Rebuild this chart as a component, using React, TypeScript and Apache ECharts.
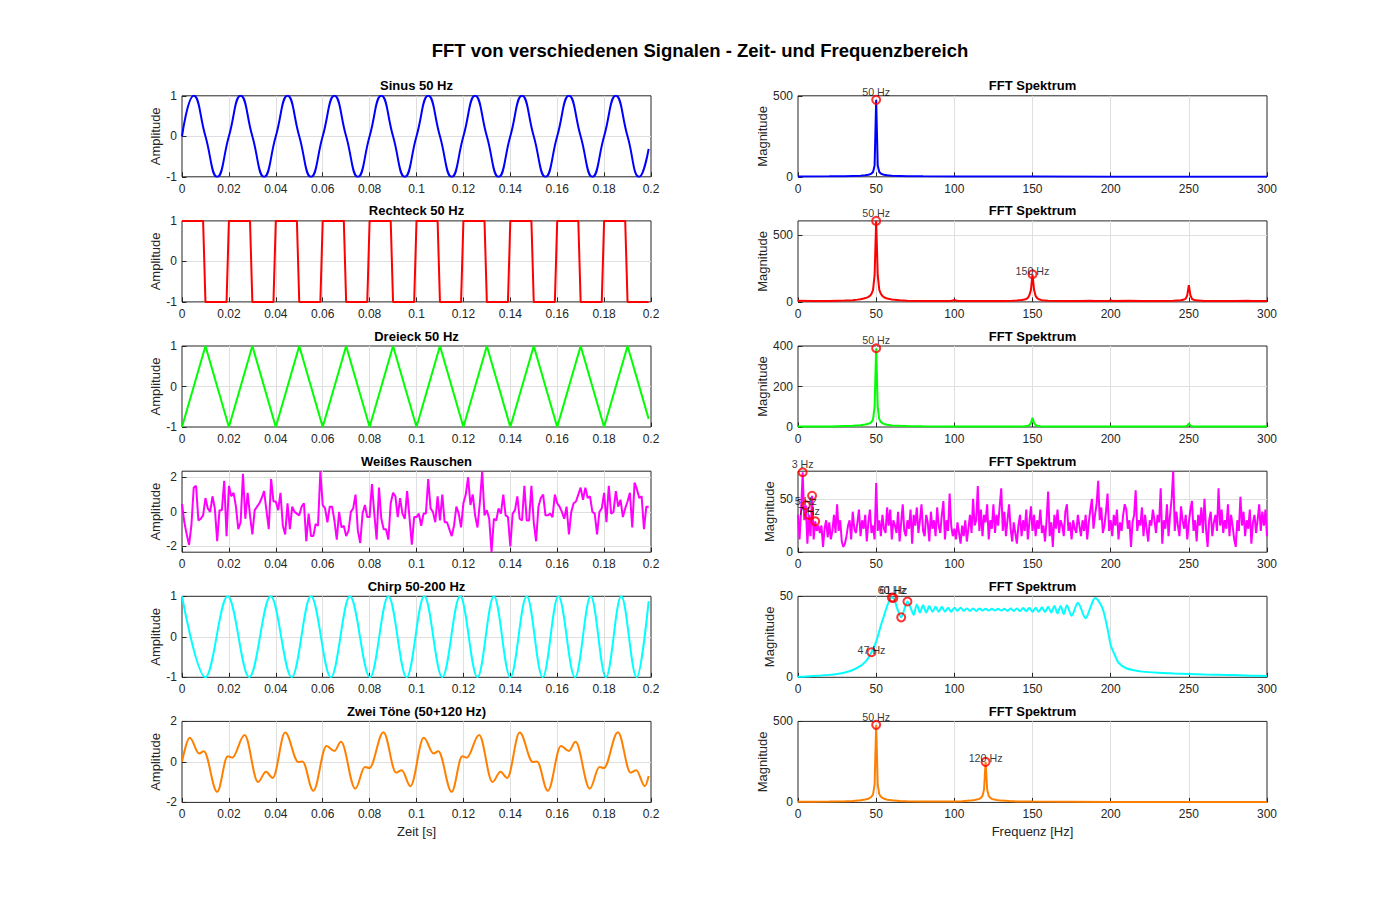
import React, { useEffect, useRef } from "react";
import * as echarts from "echarts";

const FONT = '"Liberation Sans", Arial, Helvetica, sans-serif';

// ---------- time-domain signals (t [s], amplitude) ----------
const sineSignal = [
  [0, 0], [0.005, 1], [0.01, 0], [0.015, -1], [0.02, 0], [0.025, 1], [0.03, 0], [0.035, -1],
  [0.04, 0], [0.045, 1], [0.05, 0], [0.055, -1], [0.06, 0], [0.065, 1], [0.07, 0], [0.075, -1],
  [0.08, 0], [0.085, 1], [0.09, 0], [0.095, -1], [0.1, 0], [0.105, 1], [0.11, 0], [0.115, -1],
  [0.12, 0], [0.125, 1], [0.13, 0], [0.135, -1], [0.14, 0], [0.145, 1], [0.15, 0], [0.155, -1],
  [0.16, 0], [0.165, 1], [0.17, 0], [0.175, -1], [0.18, 0], [0.185, 1], [0.19, 0], [0.195, -1],
  [0.199, -0.31],
];

const squareSignal = [
  [0, 1], [0.009, 1], [0.01, -1], [0.019, -1], [0.02, 1], [0.029, 1], [0.03, -1], [0.039, -1],
  [0.04, 1], [0.049, 1], [0.05, -1], [0.059, -1], [0.06, 1], [0.069, 1], [0.07, -1], [0.079, -1],
  [0.08, 1], [0.089, 1], [0.09, -1], [0.099, -1], [0.1, 1], [0.109, 1], [0.11, -1], [0.119, -1],
  [0.12, 1], [0.129, 1], [0.13, -1], [0.139, -1], [0.14, 1], [0.149, 1], [0.15, -1], [0.159, -1],
  [0.16, 1], [0.169, 1], [0.17, -1], [0.179, -1], [0.18, 1], [0.189, 1], [0.19, -1], [0.199, -1],
];

const triangleSignal = [
  [0, -1], [0.01, 1], [0.02, -1], [0.03, 1], [0.04, -1], [0.05, 1], [0.06, -1], [0.07, 1],
  [0.08, -1], [0.09, 1], [0.1, -1], [0.11, 1], [0.12, -1], [0.13, 1], [0.14, -1], [0.15, 1],
  [0.16, -1], [0.17, 1], [0.18, -1], [0.19, 1], [0.199, -0.8],
];

// white noise samples, 1 ms apart, starting at t = 0
const noiseSamples = [
  0.46, -0.6, -1.3, -1.9, -0.8, 1.4, 1.5, -0.5, -0.4, -0.2,
  0.8, 0.2, 0.0, 0.9, 0.2, -1.7, 0.1, 0.1, 1.8, -1.4,
  1.5, 0.9, 1.1, 0.3, -1.0, -0.6, 2.2, -0.4, 1.1, -0.2,
  -1.3, 0.1, 0.3, 0.5, 0.8, 1.2, 0.1, -1.0, 1.9, 0.6,
  0.6, 0.1, 1.1, -0.8, -1.3, 0.5, -1.0, 0.3, 0.0, -0.1,
  -0.2, 0.3, 0.5, -1.7, -0.1, -1.4, -1.4, -0.7, -0.8, 2.35,
  0.4, 0.2, -0.6, 0.3, 0.3, -0.5, -1.6, 0.0, -0.9, -0.8,
  -1.4, -1.1, 0.0, 0.2, 1.0, -1.1, -1.8, -0.1, 0.4, -0.3,
  -0.3, 1.6, -0.1, -1.6, 1.4, -0.4, -1.0, -1.0, -1.6, 0.5,
  1.1, 0.9, -0.3, 0.8, -0.1, -0.4, 1.2, -0.3, -1.9, -0.3,
  -0.3, -0.1, -0.8, -0.1, -0.1, 1.9, 0.2, 0.0, -0.6, 0.9,
  -0.5, 1.0, -0.6, -0.6, -1.0, -1.4, -0.8, 0.3, -0.1, -0.9,
  0.5, 1.0, 2.0, 0.4, 1.0, -0.2, -0.9, 0.5, 2.35, -0.2,
  0.1, -0.4, -2.33, -0.4, -0.5, 0.2, -0.1, 1.0, -0.2, -0.3,
  -2.0, -0.1, 0.1, 0.9, -0.4, -0.5, 1.5, -0.5, -0.5, 1.5,
  -0.6, -1.7, 0.3, 0.8, 1.0, -0.2, -0.2, -0.1, -0.3, 1.0,
  0.5, 0.3, 0.0, -0.4, 0.3, -1.3, 0.0, 0.5, 0.6, 1.0,
  1.4, 0.7, 1.4, 0.8, 0.9, 0.0, -0.1, -1.3, 0.0, 0.2,
  1.1, -0.6, 1.5, -0.1, 0.0, 1.2, 0.3, 0.7, -0.3, 0.2,
  0.6, 1.1, -0.9, 1.7, 1.3, 0.8, 0.9, -1.0, 0.3, 0.3,
];

// chirp extrema (t [s], amplitude)
const chirpSignal = [
  [0, 1], [0.00995, -1], [0.0195, 1], [0.0287, -1], [0.0378, 1], [0.0468, -1], [0.055, 1],
  [0.0635, -1], [0.0716, 1], [0.0802, -1], [0.088, 1], [0.0958, -1], [0.1033, 1], [0.111, -1],
  [0.1186, 1], [0.126, -1], [0.133, 1], [0.14, -1], [0.147, 1], [0.1538, -1], [0.1605, 1],
  [0.1676, -1], [0.1743, 1], [0.1808, -1], [0.1873, 1], [0.1939, -1], [0.199, 0.88],
];

// two tones (50 + 120 Hz) extrema (t [s], amplitude)
const twoToneSignal = [
  [0, 0], [0.0033, 1.19], [0.0073, 0.41], [0.0093, 0.53], [0.015, -1.48], [0.0195, 0.28],
  [0.0214, 0.21], [0.0267, 1.33], [0.0324, -0.99], [0.0358, -0.49], [0.0387, -0.79],
  [0.044, 1.45], [0.0496, 0], [0.0514, 0.02], [0.056, -1.43], [0.0616, 0.79], [0.065, 0.54],
  [0.0678, 0.99], [0.0739, -1.32], [0.078, -0.25], [0.0799, -0.3], [0.0859, 1.47],
  [0.0913, -0.53], [0.0937, -0.41], [0.0974, -1.2],
  [0.1031, 1.19], [0.1073, 0.41], [0.1093, 0.53], [0.115, -1.48], [0.1195, 0.28],
  [0.1214, 0.21], [0.1267, 1.33], [0.1324, -0.99], [0.1358, -0.49], [0.1387, -0.79],
  [0.144, 1.45], [0.1496, 0], [0.1514, 0.02], [0.156, -1.43], [0.1616, 0.79], [0.165, 0.54],
  [0.1678, 0.99], [0.1739, -1.32], [0.178, -0.25], [0.1799, -0.3], [0.1859, 1.47],
  [0.1913, -0.53], [0.1937, -0.41], [0.1974, -1.2], [0.199, -0.7],
];

// ---------- spectra (f [Hz], magnitude) ----------
const sineSpectrum = [
  [0, 2], [20, 3], [30, 4], [40, 7], [43, 10], [45, 13], [46, 16], [47, 20], [48, 30], [49, 70],
  [50, 475], [51, 70], [52, 30], [53, 20], [54, 16], [55, 13], [57, 10], [60, 7], [70, 4],
  [80, 3], [100, 2], [150, 2], [200, 1], [250, 1], [300, 1],
];

const squareSpectrum = [
  [0, 8], [10, 6], [20, 7], [30, 10], [35, 13], [38, 17], [40, 20], [42, 25], [44, 32], [45, 38],
  [46, 45], [47, 60], [48, 90], [49, 200], [50, 606], [51, 200], [52, 90], [53, 60], [54, 45],
  [55, 35], [57, 25], [60, 18], [65, 12], [70, 9], [80, 7], [90, 6], [98, 7], [100, 14], [102, 7],
  [110, 6], [120, 6], [130, 7], [137, 9], [140, 10], [143, 14], [145, 18], [146, 22], [147, 30],
  [148, 50], [149, 90], [150, 207], [151, 90], [152, 45], [153, 28], [154, 20], [156, 13],
  [160, 9], [170, 6], [180, 6], [187, 9], [190, 6], [199, 7], [200, 14], [201, 7], [212, 8],
  [220, 6], [230, 6], [240, 8], [245, 12], [247, 18], [248, 25], [249, 50], [250, 125],
  [251, 50], [252, 22], [254, 12], [260, 7], [270, 6], [280, 6], [288, 8], [290, 6], [300, 6],
];

const triangleSpectrum = [
  [0, 3], [20, 3], [30, 5], [35, 6], [40, 9], [43, 12], [45, 16], [46, 19], [47, 25], [48, 38],
  [49, 100], [50, 389], [51, 100], [52, 38], [53, 25], [54, 19], [55, 15], [57, 11], [60, 8],
  [65, 6], [70, 5], [80, 4], [100, 3], [140, 3], [145, 4], [147, 6], [148, 9], [149, 20],
  [150, 45], [151, 20], [152, 9], [153, 6], [155, 4], [160, 3], [200, 2], [245, 2], [248, 4],
  [249, 7], [250, 17], [251, 7], [252, 4], [255, 2], [300, 2],
];

// noise spectrum magnitudes, 1 Hz apart, 0..300 Hz
const noiseSpectrum = [
  35, 12, 40, 75, 30, 44, 8, 35, 15, 53,
  12, 29, 20, 25, 18, 25, 5, 22, 30, 14,
  28, 12, 20, 35, 18, 45, 20, 30, 10, 5,
  8, 15, 25, 30, 12, 38, 22, 18, 28, 40,
  15, 30, 22, 35, 10, 28, 40, 18, 25, 12,
  65, 20, 30, 15, 35, 22, 18, 42, 25, 40,
  12, 30, 25, 18, 38, 10, 28, 45, 20, 15,
  30, 22, 40, 8, 35, 25, 42, 18, 30, 45,
  20, 15, 35, 28, 10, 38, 22, 30, 15, 42,
  25, 18, 35, 48, 12, 30, 20, 55, 25, 15,
  22, 12, 28, 18, 8, 25, 15, 30, 10, 22,
  35, 18, 50, 25, 30, 62, 20, 40, 15, 35,
  28, 45, 12, 30, 22, 45, 18, 35, 25, 43,
  60, 20, 38, 15, 30, 45, 22, 10, 28, 18,
  8, 25, 35, 15, 30, 20, 40, 12, 28, 43,
  20, 35, 15, 30, 22, 40, 18, 25, 10, 30,
  57, 15, 28, 5, 35, 22, 40, 18, 30, 25,
  15, 38, 45, 20, 28, 12, 30, 22, 18, 35,
  25, 15, 30, 20, 35, 12, 28, 40, 50, 22,
  35, 45, 67, 30, 42, 18, 25, 38, 55, 20,
  30, 15, 35, 25, 40, 12, 28, 20, 35, 45,
  40, 22, 30, 5, 28, 35, 58, 20, 30, 25,
  42, 15, 35, 22, 10, 30, 25, 40, 30, 18,
  35, 28, 60, 8, 30, 22, 45, 15, 35, 50,
  76, 20, 38, 25, 15, 43, 30, 22, 35, 12,
  28, 40, 48, 20, 30, 10, 35, 25, 42, 18,
  50, 22, 5, 30, 38, 15, 28, 35, 20, 60,
  25, 40, 18, 30, 22, 45, 15, 35, 25, 12,
  5, 30, 20, 52, 25, 38, 15, 30, 22, 40,
  8, 28, 35, 18, 30, 45, 20, 38, 25, 40,
  15,
];

const chirpSpectrum = [
  [0, 0.3], [5, 0.5], [10, 0.8], [15, 1.1], [20, 1.5], [25, 2.1], [30, 3], [35, 4.5], [40, 7],
  [43, 9.5], [45, 12], [47, 15.5], [50, 22], [53, 32], [55, 38], [57, 44], [59, 48.5],
  [60, 49.2], [61, 49], [62, 47], [64, 41], [66, 37], [68, 42], [70, 46.8], [72, 43],
  [74, 38.5], [76, 45], [78, 40], [80, 44.5], [82, 40], [84, 44], [86, 40.5], [88, 43.5],
  [90, 40.5], [92, 43.5], [94, 40.5], [96, 43], [98, 40.5], [100, 43], [102, 41], [104, 43],
  [106, 41], [108, 42.5], [110, 41], [112, 42.5], [114, 41], [116, 42.5], [118, 41.2],
  [120, 42.3], [122, 41.2], [124, 42.3], [126, 41.2], [128, 42.3], [130, 41.2], [132, 42.3],
  [134, 41], [136, 42.5], [138, 41], [140, 42.5], [142, 40.8], [144, 42.8], [146, 40.8],
  [148, 43], [150, 40.5], [152, 43], [154, 40.5], [156, 43.2], [158, 40.3], [160, 43.5],
  [162, 40], [164, 44], [166, 39.5], [168, 44], [170, 39], [172, 44.5], [175, 38], [179, 46],
  [184, 36.5], [187, 43], [190, 49], [192, 47.5], [195, 42], [198, 30], [200, 20], [203, 13],
  [205, 9], [210, 5.6], [215, 4.3], [220, 3.5], [230, 2.8], [240, 2.4], [250, 2.1], [260, 1.8],
  [275, 1.4], [290, 1], [300, 0.8],
];

const twoToneSpectrum = [
  [0, 4], [10, 4], [20, 5], [30, 7], [35, 9], [40, 13], [43, 18], [45, 23], [46, 28], [47, 35],
  [48, 50], [49, 110], [50, 479], [51, 110], [52, 50], [53, 35], [54, 28], [55, 23], [57, 17],
  [60, 13], [65, 9], [70, 7], [80, 5], [90, 5], [100, 6], [105, 7], [110, 11], [113, 15],
  [115, 19], [116, 22], [117, 28], [118, 40], [119, 80], [120, 250], [121, 80], [122, 40],
  [123, 28], [124, 22], [125, 19], [127, 15], [130, 11], [135, 8], [140, 6], [150, 5],
  [175, 4], [200, 3], [250, 2], [300, 2],
];

// ---------- detected peaks (f [Hz], magnitude) ----------
const sinePeaks = [[50, 475]];
const squarePeaks = [[50, 606], [150, 207]];
const trianglePeaks = [[50, 389]];
const noisePeaks = [[3, 75], [5, 44], [7, 35], [9, 53], [11, 29]];
const chirpPeaks = [[47, 15.5], [60, 49.2], [61, 49], [66, 37], [70, 46.8]];
const twoTonePeaks = [[50, 479], [120, 250]];

// ---------- tick settings ----------
const timeAxis = { min: 0, max: 0.2, interval: 0.02 };
const freqAxis = { min: 0, max: 300, interval: 50 };

const panels = [
  { title: "Sinus 50 Hz", signal: sineSignal, color: "#0000ff", yMin: -1, yMax: 1, yInt: 1, smooth: 0.5, mono: undefined,
    spectrum: sineSpectrum, sMax: 500, sInt: 500, peaks: sinePeaks, nLabels: 1 },
  { title: "Rechteck 50 Hz", signal: squareSignal, color: "#ff0000", yMin: -1, yMax: 1, yInt: 1, smooth: false, mono: undefined,
    spectrum: squareSpectrum, sMax: 606, sInt: 500, peaks: squarePeaks, nLabels: 2 },
  { title: "Dreieck 50 Hz", signal: triangleSignal, color: "#00ff00", yMin: -1, yMax: 1, yInt: 1, smooth: false, mono: undefined,
    spectrum: triangleSpectrum, sMax: 400, sInt: 200, peaks: trianglePeaks, nLabels: 1 },
  { title: "Weißes Rauschen", signal: noiseSamples.map((v, i) => [i / 1000, v]), color: "#ff00ff", yMin: -2.33, yMax: 2.35, yInt: undefined, smooth: false, mono: undefined,
    spectrum: noiseSpectrum.map((v, i) => [i, v]), sMax: 76, sInt: 50, peaks: noisePeaks, nLabels: 3 },
  { title: "Chirp 50-200 Hz", signal: chirpSignal, color: "#00ffff", yMin: -1, yMax: 1, yInt: 1, smooth: 0.36, mono: "x",
    spectrum: chirpSpectrum, sMax: 50, sInt: 50, peaks: chirpPeaks, nLabels: 3 },
  { title: "Zwei Töne (50+120 Hz)", signal: twoToneSignal, color: "#ff8000", yMin: -2, yMax: 2, yInt: 2, smooth: 0.36, mono: "x",
    spectrum: twoToneSpectrum, sMax: 500, sInt: 500, peaks: twoTonePeaks, nLabels: 2 },
];

const ROW_TOPS = [95.8, 220.9, 346, 471.2, 596.3, 721.4];
const PLOT_H = 81;
const COL_LEFTS = [182, 798];
const PLOT_W = 469;

function isMultiple(v: number, step: number) {
  const r = v / step;
  return Math.abs(r - Math.round(r)) < 1e-9;
}

function makeXAxis(gridIndex: number, ax: any, name?: string) {
  return {
    type: "value", gridIndex, min: ax.min, max: ax.max, interval: ax.interval, position: "bottom",
    axisLine: { show: false, onZero: false },
    axisTick: { show: true, inside: true, length: 4.5, lineStyle: { color: "#262626", width: 1 } },
    axisLabel: { show: true, margin: 6, color: "#262626", fontSize: 12, fontFamily: FONT },
    splitLine: { show: true, showMinLine: false, showMaxLine: false, lineStyle: { color: "#dfdfdf", width: 1 } },
    name: name || "", nameLocation: "middle", nameGap: 22.5,
    nameTextStyle: { fontSize: 13, color: "#262626", fontFamily: FONT },
  };
}

function makeYAxis(gridIndex: number, min: number, max: number, interval: number | undefined, name: string, nameGap: number) {
  const a: any = {
    type: "value", gridIndex, min, max, position: "left",
    axisLine: { show: false, onZero: false },
    axisTick: { show: true, inside: true, length: 4.5, lineStyle: { color: "#262626", width: 1 } },
    axisLabel: {
      show: true, margin: 5, color: "#262626", fontSize: 12, fontFamily: FONT,
      showMinLabel: interval ? isMultiple(min, interval) : false,
      showMaxLabel: interval ? isMultiple(max, interval) : false,
    },
    splitLine: { show: true, showMinLine: false, showMaxLine: false, lineStyle: { color: "#dfdfdf", width: 1 } },
    name, nameLocation: "middle", nameGap, nameRotate: 90,
    nameTextStyle: { fontSize: 13, color: "#262626", fontFamily: FONT },
  };
  if (interval) a.interval = interval;
  else a.splitNumber = 2;
  return a;
}

function buildOption() {
  const grid: any[] = [];
  const xAxis: any[] = [];
  const yAxis: any[] = [];
  const series: any[] = [];
  const graphics: any[] = [
    {
      type: "text", x: 700, y: 50,
      style: { text: "FFT von verschiedenen Signalen - Zeit- und Frequenzbereich", font: `bold 18.5px ${FONT}`, fill: "#000", align: "center", verticalAlign: "middle" },
    },
  ];

  panels.forEach((p, r) => {
    for (let c = 0; c < 2; c++) {
      const gi = r * 2 + c;
      grid.push({
        left: COL_LEFTS[c], top: ROW_TOPS[r], width: PLOT_W, height: PLOT_H,
        show: true, borderColor: "#262626", borderWidth: 1, backgroundColor: "#ffffff",
        containLabel: false, outerBoundsMode: "none",
      });
      graphics.push({
        type: "text", x: COL_LEFTS[c] + PLOT_W / 2, y: ROW_TOPS[r] - 10,
        style: { text: c === 0 ? p.title : "FFT Spektrum", font: `bold 13px ${FONT}`, fill: "#000", align: "center", verticalAlign: "middle" },
      });
      const last = r === panels.length - 1;
      if (c === 0) {
        xAxis.push(makeXAxis(gi, timeAxis, last ? "Zeit [s]" : undefined));
        yAxis.push(makeYAxis(gi, p.yMin, p.yMax, p.yInt, "Amplitude", 15.5));
        series.push({
          type: "line", xAxisIndex: gi, yAxisIndex: gi, data: p.signal,
          showSymbol: false, symbol: "none", smooth: p.smooth, smoothMonotone: p.mono,
          lineStyle: { color: p.color, width: 2 }, silent: true, z: 3,
        });
      } else {
        xAxis.push(makeXAxis(gi, freqAxis, last ? "Frequenz [Hz]" : undefined));
        const gap = p.sMax >= 100 ? 28 : 21;
        yAxis.push(makeYAxis(gi, 0, p.sMax, p.sInt, "Magnitude", gap));
        series.push({
          type: "line", xAxisIndex: gi, yAxisIndex: gi, data: p.spectrum,
          showSymbol: false, symbol: "none", smooth: p.title.startsWith("Chirp") ? 0.3 : false,
          lineStyle: { color: p.color, width: 2 }, silent: true, z: 3,
        });
        series.push({
          type: "scatter", xAxisIndex: gi, yAxisIndex: gi, data: p.peaks,
          symbol: "circle", symbolSize: 8, clip: false, silent: true, z: 4,
          itemStyle: { color: "rgba(0,0,0,0)", borderColor: "#ff0000", borderWidth: 2 },
        });
        series.push({
          type: "scatter", xAxisIndex: gi, yAxisIndex: gi,
          data: p.peaks.slice(0, p.nLabels).map(([f, m]) => ({ name: `${f} Hz`, value: [f, m * 1.1] })),
          symbol: "circle", symbolSize: 1, clip: false, silent: true, z: 5,
          itemStyle: { color: "rgba(0,0,0,0)" },
          label: { show: true, position: "inside", formatter: "{b}", fontSize: 10.7, color: "#000", fontFamily: FONT },
        });
      }
    }
  });

  return {
    animation: false,
    backgroundColor: "#ffffff",
    grid, xAxis, yAxis, series,
    graphic: { elements: graphics },
  };
}

export default function App() {
  const ref = useRef<HTMLDivElement>(null);
  useEffect(() => {
    if (!ref.current) return;
    const chart = echarts.init(ref.current, undefined, { renderer: "svg", width: 1400, height: 900 });
    chart.setOption(buildOption() as any);
    return () => chart.dispose();
  }, []);
  return (
    <div
      ref={ref}
      style={{ position: "fixed", left: 0, top: 0, width: 1400, height: 900, background: "#ffffff" }}
    />
  );
}
